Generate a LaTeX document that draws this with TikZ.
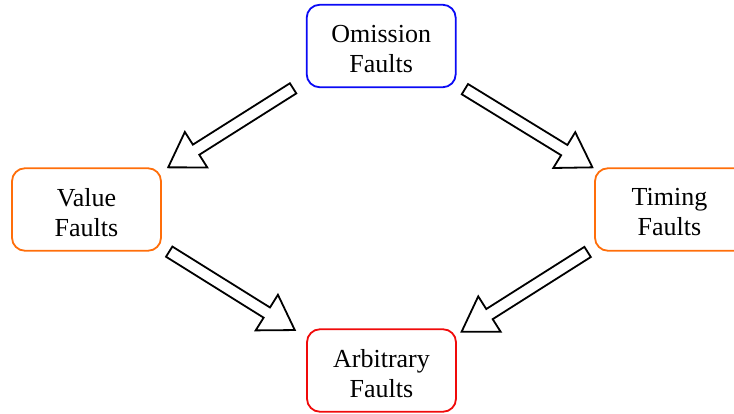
\documentclass[tikz,border=0pt]{standalone}
\usepackage{fontspec}
\setmainfont{Liberation Serif}
\usetikzlibrary{calc}

\definecolor{omblue}{RGB}{10,10,245}
\definecolor{faultorange}{RGB}{255,110,10}
\definecolor{arbred}{RGB}{240,10,10}

% Hollow block arrow from coordinate #1 (tail) to coordinate #2 (tip)
\newcommand{\faultarrow}[2]{%
  \coordinate (#1-#2-neck) at ($(#2)!33pt!(#1)$);
  \draw[hollowarrow]
    ($(#1)!6pt!90:(#2)$) -- ($(#1-#2-neck)!6pt!90:(#2)$)
    -- ($(#1-#2-neck)!21pt!90:(#2)$) -- (#2)
    -- ($(#1-#2-neck)!21pt!-90:(#2)$) -- ($(#1-#2-neck)!6pt!-90:(#2)$)
    -- ($(#1)!6pt!-90:(#2)$) -- cycle;
}

\begin{document}
\begin{tikzpicture}[x=1pt,y=-1pt,
  faultbox/.style={draw, line width=1.8pt, rounded corners=13pt,
    minimum width=149pt, minimum height=82.5pt, inner sep=0pt},
  faulttext/.style={align=center, font=\fontsize{26}{30}\selectfont, inner sep=0pt},
  hollowarrow/.style={draw=black, fill=white, line width=1.8pt, line join=miter}]

  \path[use as bounding box, clip] (0,0) rectangle (734,414);

  % fault class boxes (the Timing box runs past the right edge)
  \node[faultbox, draw=omblue]      (om)  at (381.2,46)    {};
  \node[faultbox, draw=faultorange] (val) at (86.5,209.5)  {};
  \node[faultbox, draw=faultorange, minimum width=165pt] (tim) at (677.5,209.5) {};
  \node[faultbox, draw=arbred]      (arb) at (381.5,370.5) {};

  % labels, set slightly below the box centres
  \node[faulttext] (omt)  at ($(om.center)+(0,3)$)  {Omission\\Faults};
  \node[faulttext] (valt) at ($(val.center)+(0,3)$) {Value\\Faults};
  \node[faulttext] (timt) at (669.5,212.5)          {Timing\\Faults};
  \node[faulttext] (arbt) at ($(arb.center)+(0,3)$) {Arbitrary\\Faults};

  % arrow ends
  \coordinate (a1t) at ($(om.south west)+(-12.7,0.2)$);
  \coordinate (a1h) at ($(val.north east)+(6.3,0)$);
  \coordinate (a2t) at ($(om.south east)+(8.3,1)$);
  \coordinate (a2h) at ($(tim.north west)+(-1.7,0)$);
  \coordinate (a3t) at ($(tim.south west)+(-6.5,0.3)$);
  \coordinate (a3h) at ($(arb.north east)+(4.7,3.4)$);
  \coordinate (a4t) at ($(val.south east)+(7.3,0)$);
  \coordinate (a4h) at ($(arb.north west)+(-11.3,1.7)$);

  \faultarrow{a1t}{a1h}
  \faultarrow{a2t}{a2h}
  \faultarrow{a3t}{a3h}
  \faultarrow{a4t}{a4h}
\end{tikzpicture}
\end{document}
